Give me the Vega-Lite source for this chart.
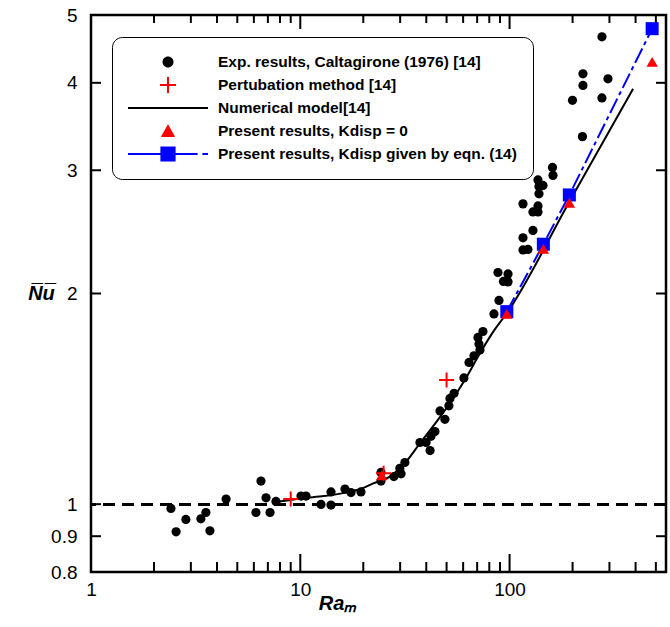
{
  "$schema": "https://vega.github.io/schema/vega-lite/v6.json",
  "width": 575,
  "height": 557,
  "autosize": {"type": "none"},
  "padding": {"left": 91, "top": 15, "right": 4, "bottom": 55},
  "background": "white",
  "config": {
    "view": {"stroke": "black", "strokeWidth": 2.5},
    "axis": {"domain": false, "grid": false, "ticks": false, "tickSize": 0, "labelFont": "Liberation Sans", "labelFontSize": 19, "labelColor": "black", "titleColor": "black", "labelFlush": false, "labelOverlap": false, "labelBound": false}
  },
  "datasets": {
    "exp": [
      {"Ra": 2.41, "Nu": 0.986}, {"Ra": 2.55, "Nu": 0.913}, {"Ra": 2.84, "Nu": 0.951}, {"Ra": 3.35, "Nu": 0.953},
      {"Ra": 3.54, "Nu": 0.973}, {"Ra": 3.70, "Nu": 0.916}, {"Ra": 4.42, "Nu": 1.017}, {"Ra": 6.14, "Nu": 0.973},
      {"Ra": 6.49, "Nu": 1.079}, {"Ra": 6.86, "Nu": 1.021}, {"Ra": 7.17, "Nu": 0.973}, {"Ra": 7.65, "Nu": 1.009},
      {"Ra": 10.08, "Nu": 1.027}, {"Ra": 10.65, "Nu": 1.027}, {"Ra": 12.56, "Nu": 0.999}, {"Ra": 14.02, "Nu": 0.997},
      {"Ra": 14.02, "Nu": 1.041}, {"Ra": 16.35, "Nu": 1.051}, {"Ra": 17.47, "Nu": 1.039}, {"Ra": 19.5, "Nu": 1.041},
      {"Ra": 24.3, "Nu": 1.110}, {"Ra": 24.3, "Nu": 1.079}, {"Ra": 28.0, "Nu": 1.095}, {"Ra": 30.3, "Nu": 1.105},
      {"Ra": 29.9, "Nu": 1.125}, {"Ra": 31.6, "Nu": 1.147}, {"Ra": 37.3, "Nu": 1.225}, {"Ra": 39.9, "Nu": 1.225},
      {"Ra": 41.7, "Nu": 1.193}, {"Ra": 42.1, "Nu": 1.250}, {"Ra": 44.0, "Nu": 1.270}, {"Ra": 46.5, "Nu": 1.359},
      {"Ra": 49.1, "Nu": 1.322}, {"Ra": 51.3, "Nu": 1.382}, {"Ra": 51.9, "Nu": 1.416}, {"Ra": 54.3, "Nu": 1.440},
      {"Ra": 60.5, "Nu": 1.515}, {"Ra": 64.0, "Nu": 1.594}, {"Ra": 67.6, "Nu": 1.629}, {"Ra": 72.2, "Nu": 1.661},
      {"Ra": 71.4, "Nu": 1.694}, {"Ra": 70.6, "Nu": 1.731}, {"Ra": 74.6, "Nu": 1.765}, {"Ra": 84.2, "Nu": 1.870},
      {"Ra": 89.0, "Nu": 1.955}, {"Ra": 88.0, "Nu": 2.143}, {"Ra": 98.3, "Nu": 2.133}, {"Ra": 93.5, "Nu": 2.081},
      {"Ra": 98.3, "Nu": 2.078}, {"Ra": 115.9, "Nu": 2.308}, {"Ra": 122.4, "Nu": 2.312}, {"Ra": 115.9, "Nu": 2.402},
      {"Ra": 129.3, "Nu": 2.461}, {"Ra": 115.9, "Nu": 2.686}, {"Ra": 129.3, "Nu": 2.616}, {"Ra": 136.7, "Nu": 2.616},
      {"Ra": 136.7, "Nu": 2.668}, {"Ra": 138.2, "Nu": 2.776}, {"Ra": 138.2, "Nu": 2.845}, {"Ra": 144.4, "Nu": 2.854},
      {"Ra": 136.7, "Nu": 2.906}, {"Ra": 161.2, "Nu": 2.950}, {"Ra": 160.3, "Nu": 3.028}, {"Ra": 223.0, "Nu": 3.351},
      {"Ra": 199.8, "Nu": 3.776}, {"Ra": 276.3, "Nu": 3.806}, {"Ra": 224.2, "Nu": 3.966}, {"Ra": 224.2, "Nu": 4.120},
      {"Ra": 295.2, "Nu": 4.053}, {"Ra": 276.3, "Nu": 4.654}
    ],
    "pert": [{"Ra": 9, "Nu": 1.017}, {"Ra": 25, "Nu": 1.107}, {"Ra": 50, "Nu": 1.505}],
    "numerical": [
      {"Ra": 7.74, "Nu": 1.008}, {"Ra": 10.3, "Nu": 1.020}, {"Ra": 13, "Nu": 1.027}, {"Ra": 16, "Nu": 1.037},
      {"Ra": 19.5, "Nu": 1.052}, {"Ra": 22.3, "Nu": 1.071}, {"Ra": 26.8, "Nu": 1.095}, {"Ra": 31.7, "Nu": 1.146},
      {"Ra": 37.3, "Nu": 1.222}, {"Ra": 44.8, "Nu": 1.312}, {"Ra": 53.8, "Nu": 1.417}, {"Ra": 62.4, "Nu": 1.521},
      {"Ra": 72.2, "Nu": 1.643}, {"Ra": 83.6, "Nu": 1.764}, {"Ra": 97.2, "Nu": 1.876}, {"Ra": 193, "Nu": 2.704}, {"Ra": 389, "Nu": 3.922}
    ],
    "kzero": [{"Ra": 24.5, "Nu": 1.100}, {"Ra": 97, "Nu": 1.870}, {"Ra": 145, "Nu": 2.316}, {"Ra": 193, "Nu": 2.696}, {"Ra": 480, "Nu": 4.285}],
    "keqn": [{"Ra": 97, "Nu": 1.884}, {"Ra": 145, "Nu": 2.352}, {"Ra": 193, "Nu": 2.766}, {"Ra": 480, "Nu": 4.78}],
    "xmajor": [{"Ra": 10}, {"Ra": 100}],
    "xminor": [{"Ra": 2}, {"Ra": 3}, {"Ra": 4}, {"Ra": 5}, {"Ra": 6}, {"Ra": 7}, {"Ra": 8}, {"Ra": 9},
               {"Ra": 20}, {"Ra": 30}, {"Ra": 40}, {"Ra": 50}, {"Ra": 60}, {"Ra": 70}, {"Ra": 80}, {"Ra": 90},
               {"Ra": 200}, {"Ra": 300}, {"Ra": 400}, {"Ra": 500}],
    "yticks": [{"Nu": 0.9}, {"Nu": 1}, {"Nu": 2}, {"Nu": 3}, {"Nu": 4}],
    "legend": [
      {"series": "Exp. results, Caltagirone (1976) [14]"},
      {"series": "Pertubation method [14]"},
      {"series": "Numerical model[14]"},
      {"series": "Present results, Kdisp = 0"},
      {"series": "Present results, Kdisp given by eqn. (14)"}
    ]
  },
  "layer": [
    {
      "data": {"name": "exp"},
      "mark": {"type": "point", "filled": true, "shape": "circle", "size": 85, "color": "black", "opacity": 1},
      "encoding": {
        "x": {"field": "Ra", "type": "quantitative", "scale": {"type": "log", "domain": [1, 559], "nice": false},
              "axis": {"orient": "bottom", "values": [1, 10, 100], "format": "d", "ticks": false, "tickSize": 0, "labelPadding": 8,
                       "title": "Raₘ", "titleFont": "Liberation Sans", "titleFontSize": 20, "titleFontWeight": "bold", "titleFontStyle": "italic",
                       "titleX": 246, "titleY": 31, "titleAlign": "center", "titleBaseline": "middle", "titleAngle": 0}},
        "y": {"field": "Nu", "type": "quantitative", "scale": {"type": "log", "domain": [0.8, 5], "nice": false},
              "axis": {"orient": "left", "values": [0.8, 0.9, 1, 2, 3, 4, 5], "format": "~g", "ticks": false, "tickSize": 0, "labelPadding": 14,
                       "title": "N̅u̅", "titleFont": "Liberation Sans", "titleFontSize": 20, "titleFontWeight": "bold", "titleFontStyle": "italic",
                       "titleX": -50, "titleY": 278, "titleAlign": "center", "titleBaseline": "middle", "titleAngle": 0}}
      }
    },
    {
      "data": {"name": "xmajor"},
      "mark": {"type": "rule", "stroke": "black", "strokeWidth": 2, "y2Offset": -18},
      "encoding": {
        "x": {"field": "Ra", "type": "quantitative"},
        "y": {"datum": 0.8, "type": "quantitative"},
        "y2": {"datum": 0.8}
      }
    },
    {
      "data": {"name": "xminor"},
      "mark": {"type": "rule", "stroke": "black", "strokeWidth": 2, "y2Offset": -10},
      "encoding": {
        "x": {"field": "Ra", "type": "quantitative"},
        "y": {"datum": 0.8, "type": "quantitative"},
        "y2": {"datum": 0.8}
      }
    },
    {
      "data": {"name": "xmajor"},
      "mark": {"type": "rule", "stroke": "black", "strokeWidth": 2, "y2Offset": 14},
      "encoding": {
        "x": {"field": "Ra", "type": "quantitative"},
        "y": {"datum": 5, "type": "quantitative"},
        "y2": {"datum": 5}
      }
    },
    {
      "data": {"name": "xminor"},
      "mark": {"type": "rule", "stroke": "black", "strokeWidth": 2, "y2Offset": 8},
      "encoding": {
        "x": {"field": "Ra", "type": "quantitative"},
        "y": {"datum": 5, "type": "quantitative"},
        "y2": {"datum": 5}
      }
    },
    {
      "data": {"name": "yticks"},
      "mark": {"type": "rule", "stroke": "black", "strokeWidth": 2, "x2Offset": 10},
      "encoding": {
        "y": {"field": "Nu", "type": "quantitative"},
        "x": {"datum": 1, "type": "quantitative"},
        "x2": {"datum": 1}
      }
    },
    {
      "data": {"name": "yticks"},
      "mark": {"type": "rule", "stroke": "black", "strokeWidth": 2, "x2Offset": -10},
      "encoding": {
        "y": {"field": "Nu", "type": "quantitative"},
        "x": {"datum": 559, "type": "quantitative"},
        "x2": {"datum": 559}
      }
    },
    {
      "data": {"name": "exp"},
      "mark": {"type": "rule", "stroke": "black", "strokeWidth": 2, "strokeDash": [12, 7]},
      "encoding": {"y": {"datum": 1, "type": "quantitative"}}
    },
    {
      "data": {"name": "numerical"},
      "mark": {"type": "line", "color": "black", "strokeWidth": 2, "interpolate": "monotone"},
      "encoding": {
        "x": {"field": "Ra", "type": "quantitative"},
        "y": {"field": "Nu", "type": "quantitative"}
      }
    },
    {
      "data": {"name": "keqn"},
      "mark": {"type": "line", "color": "#0000ff", "strokeWidth": 2, "strokeDash": [16, 4, 4, 4]},
      "encoding": {
        "x": {"field": "Ra", "type": "quantitative"},
        "y": {"field": "Nu", "type": "quantitative"}
      }
    },
    {
      "data": {"name": "keqn"},
      "mark": {"type": "point", "filled": true, "shape": "square", "size": 170, "color": "#0000ff", "opacity": 1},
      "encoding": {
        "x": {"field": "Ra", "type": "quantitative"},
        "y": {"field": "Nu", "type": "quantitative"}
      }
    },
    {
      "data": {"name": "kzero"},
      "mark": {"type": "point", "filled": true, "shape": "triangle-up", "size": 130, "color": "#ff0000", "opacity": 1},
      "encoding": {
        "x": {"field": "Ra", "type": "quantitative"},
        "y": {"field": "Nu", "type": "quantitative"}
      }
    },
    {
      "data": {"name": "pert"},
      "mark": {"type": "point", "filled": false, "shape": "M-1,0H1M0,-1V1", "size": 225, "color": "#ff0000", "strokeWidth": 2, "opacity": 1},
      "encoding": {
        "x": {"field": "Ra", "type": "quantitative"},
        "y": {"field": "Nu", "type": "quantitative"}
      }
    },
    {
      "data": {"name": "legend"},
      "transform": [{"filter": "isValid(datum.Ra)"}],
      "mark": {"type": "point", "filled": true, "opacity": 1},
      "encoding": {
        "x": {"field": "Ra", "type": "quantitative"},
        "y": {"field": "Nu", "type": "quantitative"},
        "color": {"field": "series", "type": "nominal",
          "scale": {"domain": ["Exp. results, Caltagirone (1976) [14]", "Pertubation method [14]", "Numerical model[14]", "Present results, Kdisp = 0", "Present results, Kdisp given by eqn. (14)"],
                    "range": ["#000000", "#ff0000", "#000000", "#ff0000", "#0000ff"]},
          "legend": {"orient": "none", "legendX": 21, "legendY": 22, "title": null, "symbolSize": 6400, "clipHeight": 18, "rowPadding": 5, "padding": 16,
                     "labelOffset": 10, "labelFont": "Liberation Sans", "labelFontSize": 15.5, "labelFontWeight": "bold", "labelColor": "black", "labelLimit": 0,
                     "strokeColor": "black", "cornerRadius": 10, "symbolStrokeWidth": 0, "symbolOpacity": 1, "fillColor": "white"}},
        "shape": {"field": "series", "type": "nominal",
          "scale": {"domain": ["Exp. results, Caltagirone (1976) [14]", "Pertubation method [14]", "Numerical model[14]", "Present results, Kdisp = 0", "Present results, Kdisp given by eqn. (14)"],
                    "range": [
                      "M0.1375,0A0.1375,0.1375,0,1,1,-0.1375,0A0.1375,0.1375,0,1,1,0.1375,0Z",
                      "M-0.2,-0.025H-0.025V-0.2H0.025V-0.025H0.2V0.025H0.025V0.2H-0.025V0.025H-0.2Z",
                      "M-1,-0.025H1V0.025H-1Z",
                      "M0,-0.17L0.18,0.15H-0.18Z",
                      "M-1,-0.025H0.74V0.025H-1Z M-0.19,-0.19H0.19V0.19H-0.19Z M0.86,-0.025H1V0.025H0.86Z"
                    ]}}
      }
    }
  ]
}
